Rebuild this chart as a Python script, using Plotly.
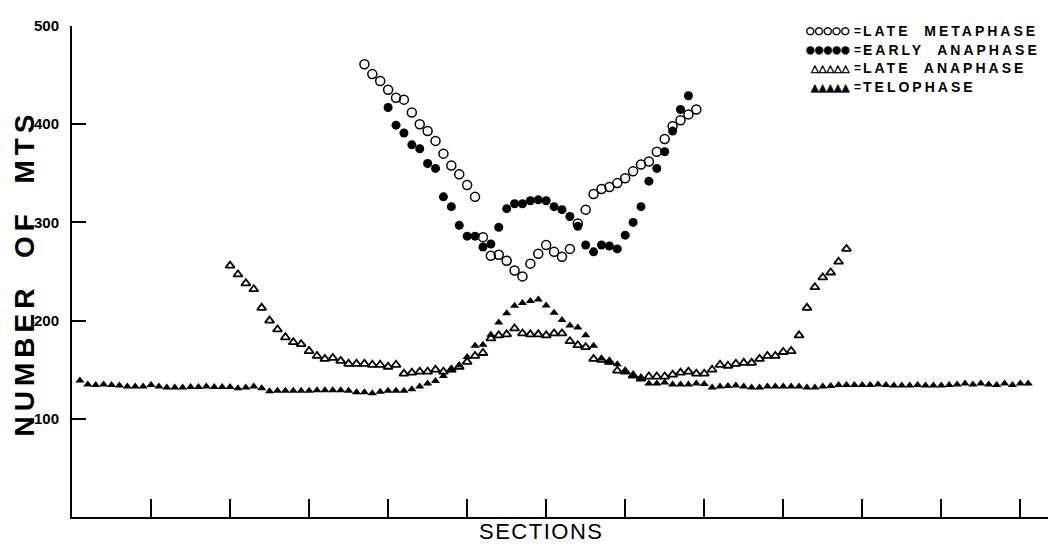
import plotly.graph_objects as go

# ---------------- data ----------------
late_metaphase_x = list(range(37, 80))
late_metaphase_y = [461, 451, 444, 435, 427, 425, 412, 400, 393, 383, 370, 358, 349, 338,
                    326, 285, 266, 267, 261, 251, 245, 258, 268, 277, 270, 265, 273, 299,
                    313, 329, 334, 336, 340, 345, 352, 359, 362, 372, 385, 398, 404, 410, 415]

early_anaphase_x = list(range(40, 79))
early_anaphase_y = [417, 399, 391, 379, 375, 360, 355, 326, 316, 297, 286, 286, 275, 278,
                    295, 314, 319, 319, 322, 323, 322, 316, 313, 306, 296, 277, 270, 277,
                    276, 273, 287, 300, 316, 342, 355, 372, 393, 415, 429]

late_anaphase_x = list(range(20, 99))
late_anaphase_y = [256, 247, 238, 232, 213, 200, 191, 183, 178, 176, 169, 164, 161, 162,
                   159, 156, 156, 156, 155, 155, 153, 155, 146, 147, 148, 148, 150, 148,
                   150, 153, 158, 164, 167, 182, 185, 186, 192, 187, 186, 186, 185, 187,
                   187, 179, 175, 173, 161, 160, 158, 149, 148, 144, 141, 143, 143, 143,
                   145, 147, 148, 146, 146, 150, 155, 154, 156, 157, 157, 161, 164, 164,
                   168, 169, 185, 213, 234, 244, 249, 260, 273]

telophase_x = list(range(1, 122))
telophase_y = [139, 135, 134.5, 135, 134.5, 134, 133, 133, 133, 134.5, 133, 132, 132, 132,
               132.5, 132.5, 133, 132.5, 132.5, 132.5, 131, 132, 133, 131, 128, 128.5, 128.5,
               128.5, 128.5, 128.5, 129, 129, 129, 129, 128.5, 127, 127, 126, 127.5, 128.5,
               128.5, 128.5, 130, 133, 136, 138.5, 143.5, 149.5, 154.5, 163, 174.5, 175.5,
               185.5, 198, 207.5, 215, 218, 220, 221.5, 215.5, 208, 200.5, 195, 193, 185,
               174.5, 161.5, 157.5, 155.5, 148.5, 144, 140.5, 136, 136, 137, 135, 135, 135,
               136, 135.5, 132, 133, 133.5, 134, 133, 132, 132, 133, 133, 133, 133, 133, 132,
               132, 133, 133.5, 134.5, 134.5, 134.5, 134.5, 134.5, 135, 134.5, 134, 134, 134,
               134.5, 134, 134, 134, 134.5, 135, 136, 135, 136, 135, 134.5, 136, 134.5, 136, 136]

y_ticks = [100, 200, 300, 400, 500]
x_ticks = [10, 20, 30, 40, 50, 60, 70, 80, 90, 100, 110, 120]

legend_rows = [
    ("\u25CB\u25CB\u25CB\u25CB\u25CB", "LATE  METAPHASE"),
    ("\u25CF\u25CF\u25CF\u25CF\u25CF", "EARLY  ANAPHASE"),
    ("\u25B3\u25B3\u25B3\u25B3\u25B3", "LATE  ANAPHASE"),
    ("\u25B2\u25B2\u25B2\u25B2\u25B2", "TELOPHASE"),
]

# ---------------- layout geometry (screen pixels; page body adds an 8px offset) ----------------
OFF = 8
W, H = 1057 - OFF, 544 - OFF
SL, SR, ST, SB = 72, 1048, 20, 517          # plot area on screen
L, R, T, B = SL - OFF, SR - OFF, ST - OFF, SB - OFF


def px(sx):
    return (sx - SL) / (SR - SL)


def py(sy):
    return (SB - sy) / (SB - ST)


fig = go.Figure()

fig.add_trace(go.Scatter(
    x=late_anaphase_x, y=late_anaphase_y, mode="markers", name="LATE ANAPHASE",
    marker=dict(symbol="triangle-up-open", size=8, color="black", line=dict(width=1.8, color="black"))))
fig.add_trace(go.Scatter(
    x=telophase_x, y=telophase_y, mode="markers", name="TELOPHASE",
    marker=dict(symbol="triangle-up", size=8, color="black")))
fig.add_trace(go.Scatter(
    x=late_metaphase_x, y=late_metaphase_y, mode="markers", name="LATE METAPHASE",
    marker=dict(symbol="circle-open", size=9, color="black", line=dict(width=1.5, color="black"))))
fig.add_trace(go.Scatter(
    x=early_anaphase_x, y=early_anaphase_y, mode="markers", name="EARLY ANAPHASE",
    marker=dict(symbol="circle", size=9, color="black")))

annotations = []
row_y = [25, 44, 63, 82]
for (sym, label), yy in zip(legend_rows, row_y):
    annotations.append(dict(
        x=px(852), y=py(yy), xref="paper", yref="paper", xanchor="right", yanchor="middle",
        text='<span style="stroke:#000000;stroke-width:0.6px">' + sym + '</span>', showarrow=False,
        font=dict(family="DejaVu Sans", size=10, color="#000000")))
    annotations.append(dict(
        x=px(852), y=py(yy), xref="paper", yref="paper", xanchor="left", yanchor="middle",
        text="=", showarrow=False,
        font=dict(family="Liberation Sans", size=12, color="black", weight="bold")))
    annotations.append(dict(
        x=px(861), y=py(yy), xref="paper", yref="paper", xanchor="left", yanchor="middle",
        text='<span style="letter-spacing:3px">' + label + '</span>', showarrow=False,
        font=dict(family="Liberation Sans", size=14, color="black", weight="bold")))

annotations.append(dict(
    x=px(541), y=py(532), xref="paper", yref="paper", xanchor="center", yanchor="middle",
    text='<span style="letter-spacing:1.5px">SECTIONS</span>', showarrow=False,
    font=dict(family="Liberation Sans", size=22, color="black")))
annotations.append(dict(
    x=px(24.5), y=py(270), xref="paper", yref="paper", xanchor="center", yanchor="middle",
    text='<span style="letter-spacing:5px">NUMBER  OF  MTS</span>', showarrow=False, textangle=-90,
    font=dict(family="Liberation Sans", size=28, color="black", weight="bold")))

fig.update_layout(
    width=W, height=H,
    margin=dict(l=L, r=W - R, t=T, b=H - B, pad=0),
    paper_bgcolor="white", plot_bgcolor="white",
    showlegend=False,
    annotations=annotations,
    xaxis=dict(range=[0, 123.5], showline=True, linewidth=2, linecolor="black",
               ticks="inside", ticklen=18, tickwidth=1.5, tickcolor="black",
               tickvals=x_ticks, showticklabels=False, showgrid=False, zeroline=False),
    yaxis=dict(range=[0, 500], showline=True, linewidth=2, linecolor="black",
               ticks="inside", ticklen=14, tickwidth=2, tickcolor="black",
               tickvals=y_ticks, ticktext=[str(v) for v in y_ticks],
               ticklabelstandoff=8, showgrid=False, zeroline=False,
               tickfont=dict(family="Liberation Sans", size=15, color="black", weight="bold")),
)

fig.write_html("out.html")
